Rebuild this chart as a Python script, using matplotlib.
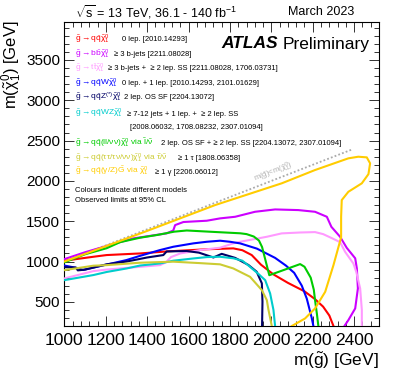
import matplotlib
matplotlib.use("Agg")
import matplotlib.pyplot as plt
from matplotlib.ticker import MultipleLocator, FixedLocator

plt.rcParams['font.family'] = ['Liberation Sans', 'DejaVu Sans']
plt.rcParams['mathtext.fontset'] = 'custom'
plt.rcParams['mathtext.rm'] = 'Liberation Sans'
plt.rcParams['mathtext.it'] = 'Liberation Sans'
plt.rcParams['mathtext.sf'] = 'Liberation Sans'
plt.rcParams['mathtext.bf'] = 'Liberation Sans:bold'

# ---------------- data (GeV) ----------------
red_x = [1000, 1140, 1204, 1365, 1494, 1688, 1816, 1860, 1905, 1950, 2010, 2080, 2160, 2210, 2250, 2280, 2300]
red_y = [1010, 1059, 1080, 1100, 1125, 1152, 1163, 1140, 1080, 960, 840, 735, 630, 535, 440, 330, 200]

magenta_x = [1000, 1100, 1200, 1333, 1494, 1526, 1535, 1575, 1688, 1752, 1825, 1921, 2018, 2130, 2211, 2268, 2290, 2332, 2364, 2405, 2413, 2418, 2405, 2372, 2353]
magenta_y = [1030, 1115, 1190, 1287, 1349, 1385, 1452, 1490, 1506, 1535, 1555, 1617, 1646, 1638, 1617, 1555, 1430, 1307, 1170, 1040, 914, 666, 418, 273, 200]

pink_x = [1000, 1140, 1204, 1365, 1462, 1490, 1515, 1560, 1655, 1752, 1816, 1849, 1978, 2050, 2139, 2211, 2250, 2292, 2332, 2356, 2396, 2410, 2429, 2437, 2437]
pink_y = [790, 881, 900, 934, 955, 990, 1055, 1100, 1142, 1171, 1225, 1245, 1307, 1349, 1360, 1365, 1340, 1290, 1240, 1121, 976, 873, 666, 400, 200]

blue_x = [1000, 1060, 1090, 1150, 1300, 1365, 1462, 1526, 1623, 1688, 1752, 1800, 1849, 1930, 2018, 2070, 2110, 2147, 2171, 2187, 2195, 2203]
blue_y = [950, 920, 895, 930, 1018, 1070, 1142, 1183, 1225, 1245, 1258, 1245, 1225, 1160, 1045, 950, 860, 700, 540, 380, 300, 200]

navy_x = [1000, 1055, 1065, 1100, 1204, 1301, 1400, 1478, 1494, 1591, 1650, 1720, 1760, 1825, 1889, 1929, 1954, 1957, 1955]
navy_y = [930, 925, 890, 900, 965, 1000, 1050, 1080, 1125, 1130, 1110, 1050, 1095, 1045, 957, 873, 729, 500, 200]

cyan_x = [1000, 1140, 1204, 1301, 1365, 1462, 1526, 1623, 1688, 1752, 1816, 1860, 1897, 1940, 1970, 1994, 2010, 2018]
cyan_y = [769, 832, 870, 914, 950, 976, 1010, 1038, 1055, 1059, 1040, 1010, 934, 840, 769, 604, 400, 200]

green_x = [1000, 1100, 1204, 1269, 1365, 1450, 1530, 1591, 1700, 1850, 1880, 1915, 1940, 1955, 1970, 1990, 2139, 2160, 2190, 2205, 2211, 2220, 2227]
green_y = [990, 1090, 1165, 1240, 1295, 1330, 1370, 1385, 1370, 1350, 1340, 1310, 1260, 1180, 1030, 830, 968, 935, 800, 650, 520, 350, 200]

olive_x = [1000, 1140, 1204, 1365, 1526, 1655, 1752, 1816, 1897, 1954, 1978, 1986, 1994, 2002]
olive_y = [893, 948, 955, 985, 998, 980, 965, 914, 810, 645, 521, 400, 300, 200]

gold_x = [1000, 1400, 1728, 2050, 2211, 2372, 2420, 2461, 2477, 2469, 2437, 2372, 2340, 2337, 2337, 2300, 2260, 2211, 2163, 2099]
gold_y = [1000, 1380, 1700, 1970, 2135, 2280, 2300, 2292, 2218, 2084, 1970, 1865, 1762, 1555, 1300, 955, 624, 418, 294, 200]

diag_x = [1000, 2390]
diag_y = [1000, 2390]

x_ticks = [1000, 1200, 1400, 1600, 1800, 2000, 2200, 2400]
y_ticks = [500, 1000, 1500, 2000, 2500, 3000, 3500]

colors = ['#ff0000', '#cc00ff', '#ff99ff', '#0000ff', '#000066', '#00cccc', '#00cc00', '#cccc33', '#ffcc00']
curves = [(red_x, red_y), (magenta_x, magenta_y), (pink_x, pink_y), (blue_x, blue_y),
          (navy_x, navy_y), (cyan_x, cyan_y), (green_x, green_y), (olive_x, olive_y), (gold_x, gold_y)]

procs = [r'$\tilde{g}\rightarrow q\bar{q}\tilde{\chi}^{0}_{1}$',
         r'$\tilde{g}\rightarrow b\bar{b}\tilde{\chi}^{0}_{1}$',
         r'$\tilde{g}\rightarrow t\bar{t}\tilde{\chi}^{0}_{1}$',
         r'$\tilde{g}\rightarrow q\bar{q}W\tilde{\chi}^{0}_{1}$',
         r'$\tilde{g}\rightarrow q\bar{q}Z^{(*)}\tilde{\chi}^{0}_{1}$',
         r'$\tilde{g}\rightarrow q\bar{q}WZ\tilde{\chi}^{0}_{1}$',
         r'$\tilde{g}\rightarrow q\bar{q}(ll/\nu\nu)\tilde{\chi}^{0}_{1}$ via $\tilde{l}/\tilde{\nu}$',
         r'$\tilde{g}\rightarrow q\bar{q}(\tau\tau/\tau\nu/\nu\nu)\tilde{\chi}^{0}_{1}$ via $\tilde{\tau}/\tilde{\nu}$',
         r'$\tilde{g}\rightarrow q\bar{q}(\gamma/Z)\tilde{G}$ via $\tilde{\chi}^{0}_{1}$']
descs = ['0 lep. [2010.14293]',
         '≥ 3 b-jets [2211.08028]',
         '≥ 3 b-jets +  ≥ 2 lep. SS [2211.08028, 1706.03731]',
         '0 lep. + 1 lep. [2010.14293, 2101.01629]',
         '2 lep. OS SF [2204.13072]',
         '≥ 7-12 jets + 1 lep. +  ≥ 2 lep. SS',
         '2 lep. OS SF + ≥ 2 lep. SS [2204.13072, 2307.01094]',
         '≥ 1 τ [1808.06358]',
         '≥ 1 γ [2206.06012]']
extra_line = '[2008.06032, 1708.08232, 2307.01094]'

# ---------------- layout (pixels of 400x390) ----------------
W, H = 400.0, 390.0
fig = plt.figure(figsize=(4.0, 3.9), dpi=100)
L, R, T, B = 64.4, 379.0, 21.7, 326.0
ax = fig.add_axes([L / W, 1 - B / H, (R - L) / W, (B - T) / H])

def fx(px):
    return px / W

def fy(py):
    return 1 - py / H

for (xs, ys), c in zip(curves, colors):
    ax.plot(xs, ys, color=c, lw=1.5, solid_joinstyle='round', zorder=3)

ax.plot(diag_x, diag_y, color='#aaaaaa', lw=1.3, ls=(0, (1, 1.2)), zorder=2)
ax.text(2010, 2110, r'm($\tilde{g}$)<m($\tilde{\chi}^{0}_{1}$)', color='#b0b0b0', fontsize=5.5,
        rotation=21.3, rotation_mode='anchor', ha='center', va='center')

ax.set_xlim(1000, 2520)
ax.set_ylim(200, 3975)
ax.xaxis.set_major_locator(FixedLocator(x_ticks))
ax.xaxis.set_minor_locator(MultipleLocator(40))
ax.yaxis.set_major_locator(FixedLocator(y_ticks))
ax.yaxis.set_minor_locator(MultipleLocator(100))
ax.set_xticklabels([str(v) for v in x_ticks])
ax.set_yticklabels([str(v) for v in y_ticks])
ax.tick_params(which='both', direction='in', top=True, right=True, width=0.7, color='#333333')
ax.tick_params(which='major', length=7)
ax.tick_params(axis='x', which='major', pad=5, labelsize=12.5)
ax.tick_params(axis='y', which='major', pad=3, labelsize=11)
ax.tick_params(which='minor', length=3.5)
for s in ax.spines.values():
    s.set_linewidth(0.8)

ax.text(1.0, -0.115, r'm($\tilde{g}$) [GeV]', transform=ax.transAxes, ha='right', va='center', fontsize=12.5)
fig.text(fx(12), fy(20), r'm($\tilde{\chi}^{0}_{1}$) [GeV]', rotation=90, ha='center', va='top', fontsize=12)

fig.text(fx(75), fy(12), r'$\sqrt{s}$ = 13 TeV, 36.1 - 140 fb$^{-1}$', ha='left', va='center', fontsize=9)
fig.text(fx(288), fy(12), 'March 2023', ha='left', va='center', fontsize=9)

fig.text(fx(221), fy(44), 'ATLAS', fontsize=12.5, fontweight='bold', fontstyle='italic', ha='left', va='center')
fig.text(fx(283), fy(44), 'Preliminary', fontsize=12.5, ha='left', va='center')

proc_y = [39, 54.3, 68.3, 83.3, 97, 113.5, 143.3, 158.3, 171.7]
desc_x = [121.7, 114, 108.3, 121.7, 124, 127.3, 160.7, 178.3, 155]
for p, d, c, yy, dx in zip(procs, descs, colors, proc_y, desc_x):
    fig.text(fx(75), fy(yy), p, color=c, fontsize=6.0, ha='left', va='center')
    fig.text(fx(dx), fy(yy + 0.5), d, color='black', fontsize=5.5, ha='left', va='center')
fig.text(fx(130), fy(127.5), extra_line, color='black', fontsize=5.5, ha='left', va='center')
fig.text(fx(75), fy(190), 'Colours indicate different models', fontsize=5.5, ha='left', va='center')
fig.text(fx(75), fy(200.5), 'Observed limits at 95% CL', fontsize=5.5, ha='left', va='center')

fig.savefig('out.png', dpi=100)
